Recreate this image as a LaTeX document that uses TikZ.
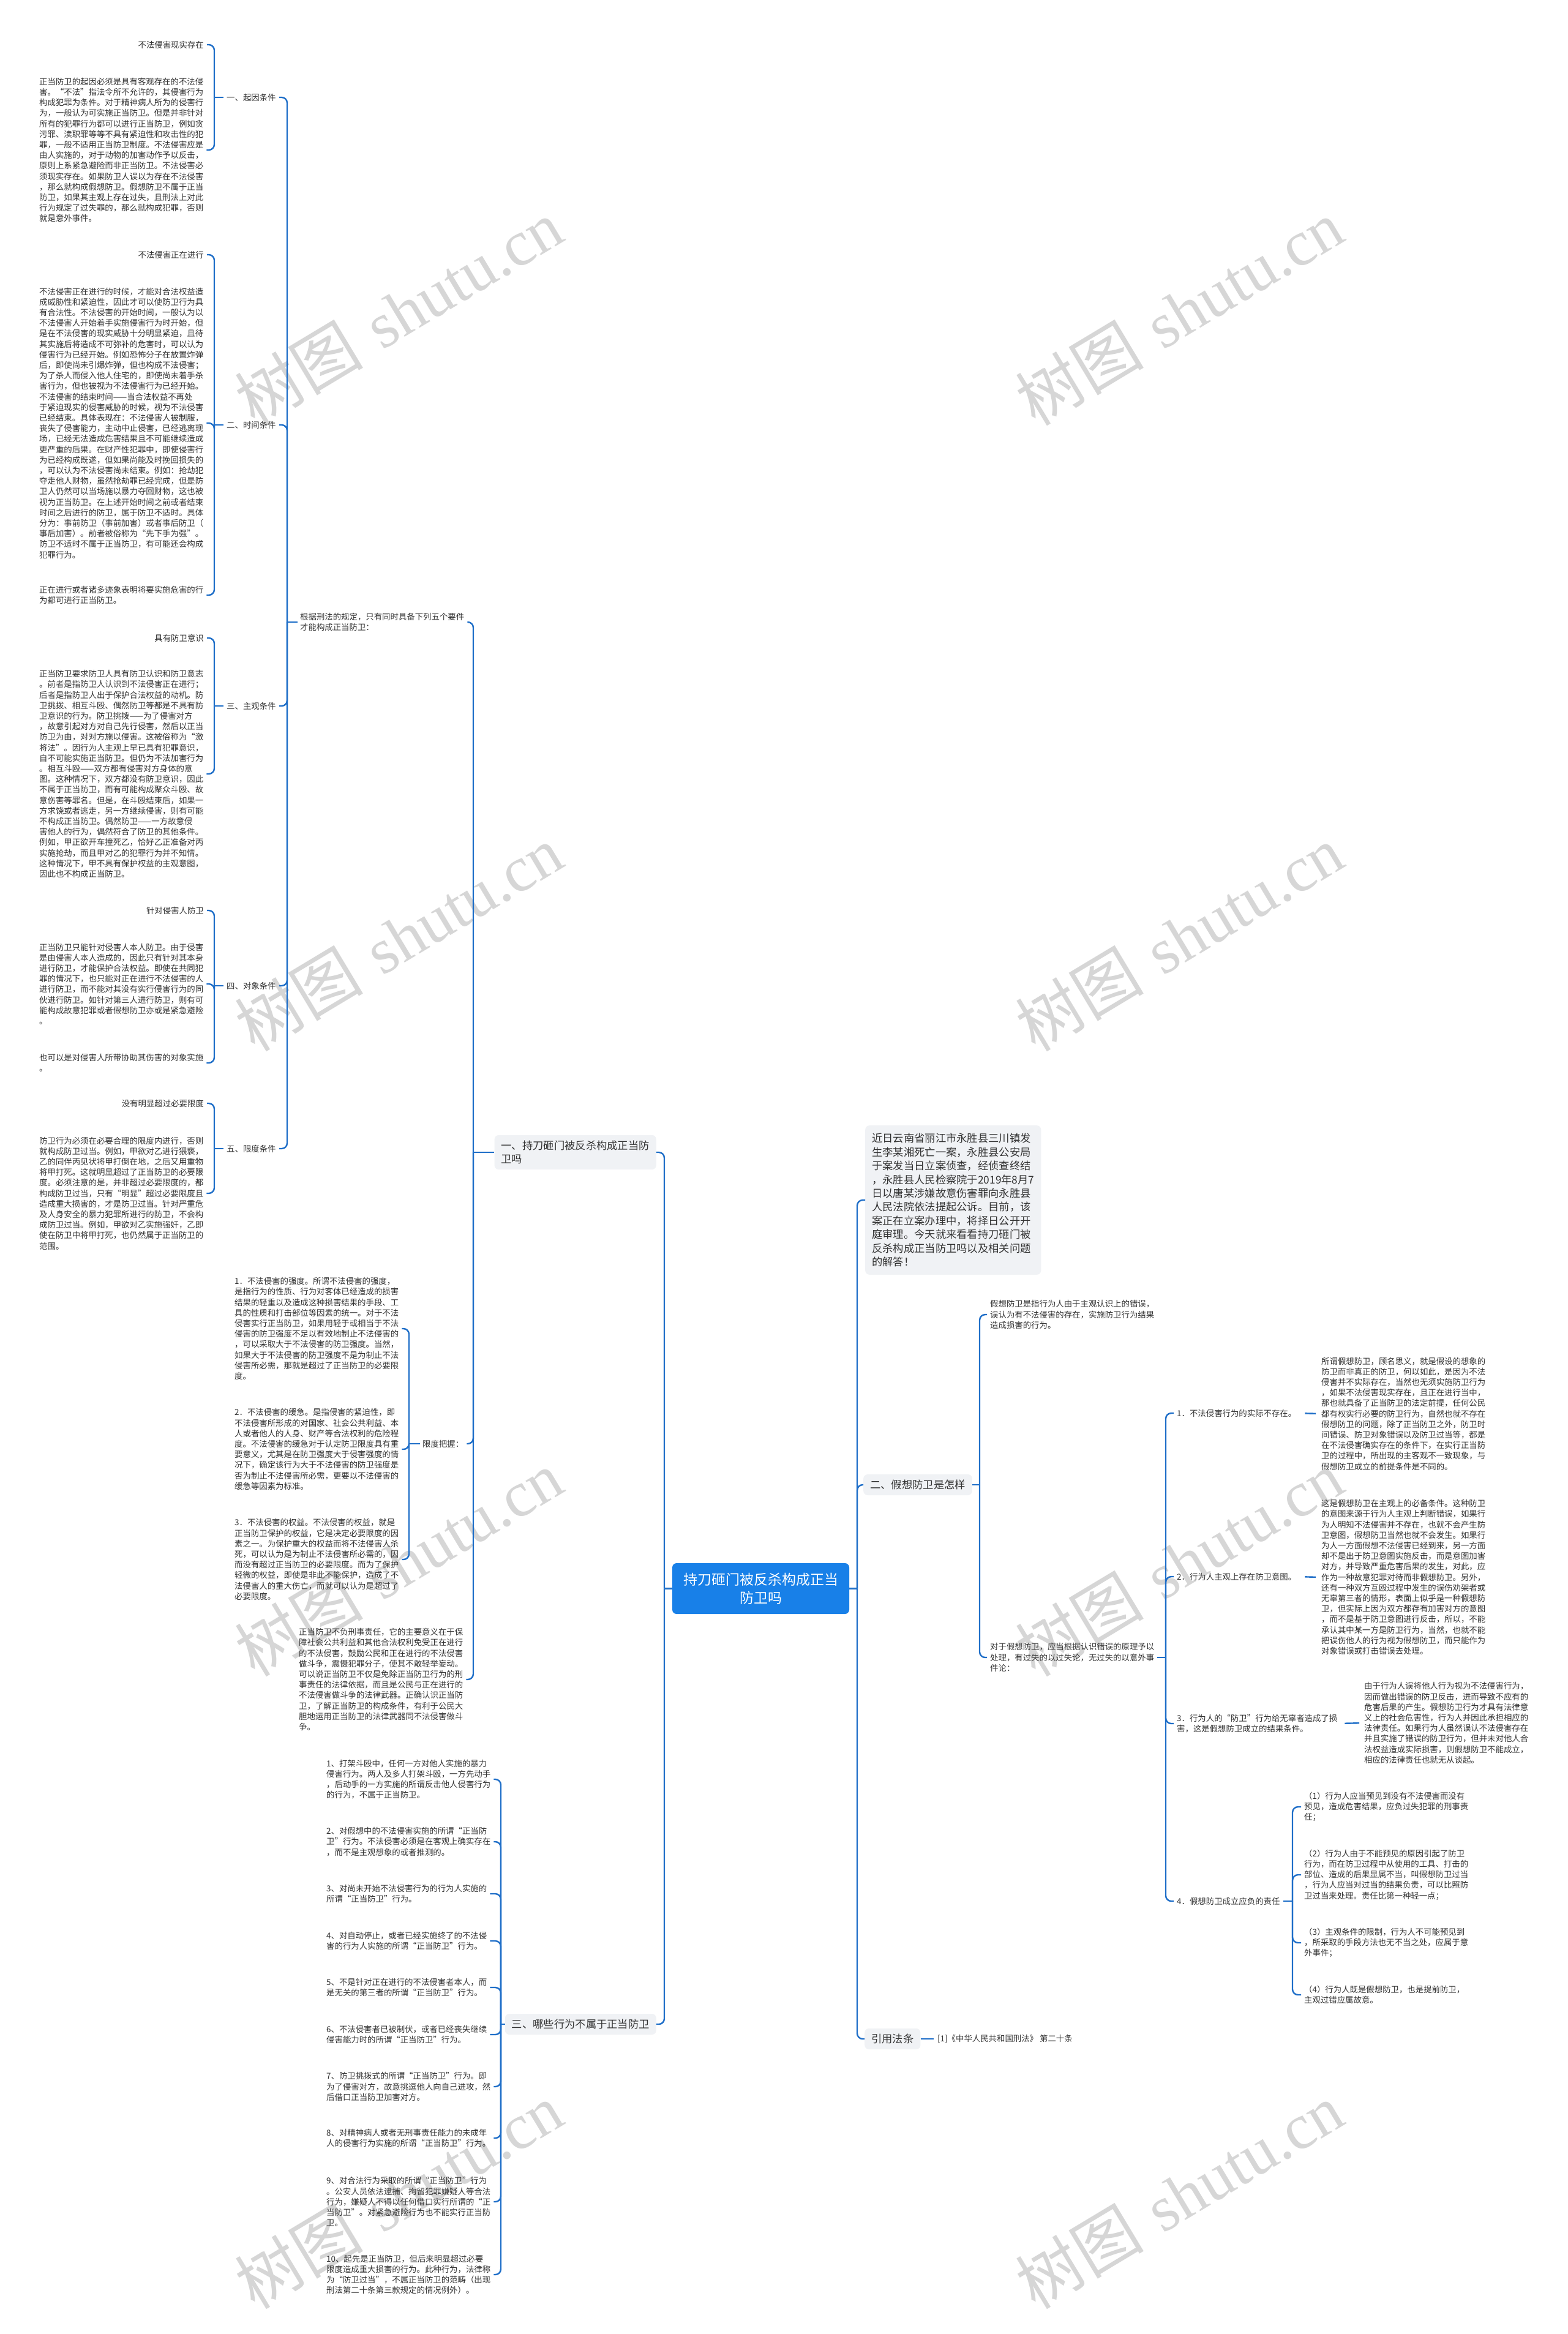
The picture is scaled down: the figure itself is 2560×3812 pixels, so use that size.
\documentclass[tikz,border=0pt]{standalone}
\usepackage{fontspec}
\setmainfont{Noto Sans CJK SC}
\newfontfamily\wmserif{Liberation Serif}
\usetikzlibrary{calc}
\definecolor{lineblue}{RGB}{30,110,200}
\definecolor{rootblue}{RGB}{24,128,232}
\definecolor{txtgray}{RGB}{50,50,50}
\definecolor{boxgray}{RGB}{240,242,245}
\definecolor{wmgray}{RGB}{214,214,214}
\begin{document}
\begin{tikzpicture}[x=1pt,y=-1pt,
  txt/.style={inner sep=0pt, align=left, text=txtgray, font=\fontsize{13.4}{17.2}\selectfont},
  conn/.style={draw=lineblue, line width=2.4pt},
  elbow/.style={conn, rounded corners=9pt},
  lone/.style={fill=boxgray, rounded corners=7pt, inner xsep=11pt, inner ysep=9pt, text=txtgray, align=left, font=\fontsize{17.3}{22.4}\selectfont},
  rootbox/.style={fill=rootblue, rounded corners=7pt, text=white, align=center, font=\fontsize{23}{30}\selectfont, minimum width=289pt, minimum height=83pt, inner sep=0pt},
  wm/.style={text=wmgray, rotate=31, inner sep=0pt, font=\fontsize{105}{105}\selectfont}]
\useasboundingbox (0,0) rectangle (2560,3812);
\fill[white] (0,0) rectangle (2560,3812);

% watermarks
\foreach \wx/\wy [count=\i] in {651/510, 1926/510, 651/1532, 1926/1532, 651/2553, 1926/2553, 651/3586, 1926/3586}
  \node[wm] (wm\i) at (\wx,\wy) {树图\hspace{32pt}{\wmserif shutu.cn}};

% vertical guide coordinates
\coordinate (vA) at (350,0);
\coordinate (vB) at (469,0);
\coordinate (vC) at (773,0);
\coordinate (vD) at (668,0);
\coordinate (vE) at (1085,0);
\coordinate (vF) at (818,0);
\coordinate (vG) at (1400,0);
\coordinate (vH) at (1600,0);
\coordinate (vI) at (1904,0);
\coordinate (vJ) at (2111,0);

% ---------------- root ----------------
\node[rootbox] (root) at (1242.5,2594.5) {持刀砸门被反杀构成正当\\防卫吗};

% ---------------- left level 1 ----------------
\node[lone, anchor=east] (L1a) at (1072,1882) {一、持刀砸门被反杀构成正当防\\卫吗};
\node[lone, anchor=east] (L1c) at (1072,3306) {三、哪些行为不属于正当防卫};

% ---------------- block 1 ----------------
\node[txt, anchor=east] (n1a) at (333,73) {不法侵害现实存在};
\node[txt, anchor=west] (n1b) at (64,245) {正当防卫的起因必须是具有客观存在的不法侵\\
害。“不法”指法令所不允许的，其侵害行为\\
构成犯罪为条件。对于精神病人所为的侵害行\\
为，一般认为可实施正当防卫。但是并非针对\\
所有的犯罪行为都可以进行正当防卫，例如贪\\
污罪、渎职罪等等不具有紧迫性和攻击性的犯\\
罪，一般不适用正当防卫制度。不法侵害应是\\
由人实施的，对于动物的加害动作予以反击，\\
原则上系紧急避险而非正当防卫。不法侵害必\\
须现实存在。如果防卫人误以为存在不法侵害\\
，那么就构成假想防卫。假想防卫不属于正当\\
防卫，如果其主观上存在过失，且刑法上对此\\
行为规定了过失罪的，那么就构成犯罪，否则\\
就是意外事件。};
\node[txt, anchor=west] (n1) at (370,159) {一、起因条件};

% ---------------- block 2 ----------------
\node[txt, anchor=east] (n2a) at (333,416) {不法侵害正在进行};
\node[txt, anchor=west] (n2b) at (64,691) {不法侵害正在进行的时候，才能对合法权益造\\
成威胁性和紧迫性，因此才可以使防卫行为具\\
有合法性。不法侵害的开始时间，一般认为以\\
不法侵害人开始着手实施侵害行为时开始，但\\
是在不法侵害的现实威胁十分明显紧迫，且待\\
其实施后将造成不可弥补的危害时，可以认为\\
侵害行为已经开始。例如恐怖分子在放置炸弹\\
后，即使尚未引爆炸弹，但也构成不法侵害；\\
为了杀人而侵入他人住宅的，即使尚未着手杀\\
害行为，但也被视为不法侵害行为已经开始。\\
不法侵害的结束时间——当合法权益不再处\\
于紧迫现实的侵害威胁的时候，视为不法侵害\\
已经结束。具体表现在：不法侵害人被制服，\\
丧失了侵害能力，主动中止侵害，已经逃离现\\
场，已经无法造成危害结果且不可能继续造成\\
更严重的后果。在财产性犯罪中，即使侵害行\\
为已经构成既遂，但如果尚能及时挽回损失的\\
，可以认为不法侵害尚未结束。例如：抢劫犯\\
夺走他人财物，虽然抢劫罪已经完成，但是防\\
卫人仍然可以当场施以暴力夺回财物，这也被\\
视为正当防卫。在上述开始时间之前或者结束\\
时间之后进行的防卫，属于防卫不适时。具体\\
分为：事前防卫（事前加害）或者事后防卫（\\
事后加害）。前者被俗称为“先下手为强”。\\
防卫不适时不属于正当防卫，有可能还会构成\\
犯罪行为。};
\node[txt, anchor=west] (n2c) at (64,972) {正在进行或者诸多迹象表明将要实施危害的行\\为都可进行正当防卫。};
\node[txt, anchor=west] (n2) at (370,694) {二、时间条件};

% ---------------- block 3 ----------------
\node[txt, anchor=east] (n3a) at (333,1042) {具有防卫意识};
\node[txt, anchor=west] (n3b) at (64,1264) {正当防卫要求防卫人具有防卫认识和防卫意志\\
。前者是指防卫人认识到不法侵害正在进行；\\
后者是指防卫人出于保护合法权益的动机。防\\
卫挑拨、相互斗殴、偶然防卫等都是不具有防\\
卫意识的行为。防卫挑拨——为了侵害对方\\
，故意引起对方对自己先行侵害，然后以正当\\
防卫为由，对对方施以侵害。这被俗称为“激\\
将法”。因行为人主观上早已具有犯罪意识，\\
自不可能实施正当防卫。但仍为不法加害行为\\
。相互斗殴——双方都有侵害对方身体的意\\
图。这种情况下，双方都没有防卫意识，因此\\
不属于正当防卫，而有可能构成聚众斗殴、故\\
意伤害等罪名。但是，在斗殴结束后，如果一\\
方求饶或者逃走，另一方继续侵害，则有可能\\
不构成正当防卫。偶然防卫——一方故意侵\\
害他人的行为，偶然符合了防卫的其他条件。\\
例如，甲正欲开车撞死乙，恰好乙正准备对丙\\
实施抢劫，而且甲对乙的犯罪行为并不知情。\\
这种情况下，甲不具有保护权益的主观意图，\\
因此也不构成正当防卫。};
\node[txt, anchor=west] (n3) at (370,1153) {三、主观条件};

% ---------------- block 4 ----------------
\node[txt, anchor=east] (n4a) at (333,1487) {针对侵害人防卫};
\node[txt, anchor=west] (n4b) at (64,1607) {正当防卫只能针对侵害人本人防卫。由于侵害\\
是由侵害人本人造成的，因此只有针对其本身\\
进行防卫，才能保护合法权益。即使在共同犯\\
罪的情况下，也只能对正在进行不法侵害的人\\
进行防卫，而不能对其没有实行侵害行为的同\\
伙进行防卫。如针对第三人进行防卫，则有可\\
能构成故意犯罪或者假想防卫亦或是紧急避险\\
。};
\node[txt, anchor=west] (n4c) at (64,1736) {也可以是对侵害人所带协助其伤害的对象实施\\。};
\node[txt, anchor=west] (n4) at (370,1610) {四、对象条件};

% ---------------- block 5 ----------------
\node[txt, anchor=east] (n5a) at (333,1802) {没有明显超过必要限度};
\node[txt, anchor=west] (n5b) at (64,1949) {防卫行为必须在必要合理的限度内进行，否则\\
就构成防卫过当。例如，甲欲对乙进行猥亵，\\
乙的同伴丙见状将甲打倒在地，之后又用重物\\
将甲打死。这就明显超过了正当防卫的必要限\\
度。必须注意的是，并非超过必要限度的，都\\
构成防卫过当，只有“明显”超过必要限度且\\
造成重大损害的，才是防卫过当。针对严重危\\
及人身安全的暴力犯罪所进行的防卫，不会构\\
成防卫过当。例如，甲欲对乙实施强奸，乙即\\
使在防卫中将甲打死，也仍然属于正当防卫的\\
范围。};
\node[txt, anchor=west] (n5) at (370,1876) {五、限度条件};

\node[txt, anchor=west] (n0) at (490,1016) {根据刑法的规定，只有同时具备下列五个要件\\才能构成正当防卫：};

% ---------------- limit ----------------
\node[txt, anchor=west] (nL1) at (383,2170) {1．不法侵害的强度。所谓不法侵害的强度，\\
是指行为的性质、行为对客体已经造成的损害\\
结果的轻重以及造成这种损害结果的手段、工\\
具的性质和打击部位等因素的统一。对于不法\\
侵害实行正当防卫，如果用轻于或相当于不法\\
侵害的防卫强度不足以有效地制止不法侵害的\\
，可以采取大于不法侵害的防卫强度。当然，\\
如果大于不法侵害的防卫强度不是为制止不法\\
侵害所必需，那就是超过了正当防卫的必要限\\
度。};
\node[txt, anchor=west] (nL2) at (383,2367) {2．不法侵害的缓急。是指侵害的紧迫性，即\\
不法侵害所形成的对国家、社会公共利益、本\\
人或者他人的人身、财产等合法权利的危险程\\
度。不法侵害的缓急对于认定防卫限度具有重\\
要意义，尤其是在防卫强度大于侵害强度的情\\
况下，确定该行为大于不法侵害的防卫强度是\\
否为制止不法侵害所必需，更要以不法侵害的\\
缓急等因素为标准。};
\node[txt, anchor=west] (nL3) at (383,2547) {3．不法侵害的权益。不法侵害的权益，就是\\
正当防卫保护的权益，它是决定必要限度的因\\
素之一。为保护重大的权益而将不法侵害人杀\\
死，可以认为是为制止不法侵害所必需的，因\\
而没有超过正当防卫的必要限度。而为了保护\\
轻微的权益，即使是非此不能保护，造成了不\\
法侵害人的重大伤亡，而就可以认为是超过了\\
必要限度。};
\node[txt, anchor=west] (nLimit) at (690,2358) {限度把握：};
\node[txt, anchor=west] (nDuty) at (488,2743) {正当防卫不负刑事责任，它的主要意义在于保\\
障社会公共利益和其他合法权利免受正在进行\\
的不法侵害，鼓励公民和正在进行的不法侵害\\
做斗争，震慑犯罪分子，使其不敢轻举妄动。\\
可以说正当防卫不仅是免除正当防卫行为的刑\\
事责任的法律依据，而且是公民与正在进行的\\
不法侵害做斗争的法律武器。正确认识正当防\\
卫，了解正当防卫的构成条件，有利于公民大\\
胆地运用正当防卫的法律武器同不法侵害做斗\\
争。};

% ---------------- not self-defence items ----------------
\node[txt, anchor=west] (i1) at (533,2906) {1、打架斗殴中，任何一方对他人实施的暴力\\
侵害行为。两人及多人打架斗殴，一方先动手\\
，后动手的一方实施的所谓反击他人侵害行为\\
的行为，不属于正当防卫。};
\node[txt, anchor=west] (i2) at (533,3008) {2、对假想中的不法侵害实施的所谓“正当防\\
卫”行为。不法侵害必须是在客观上确实存在\\
，而不是主观想象的或者推测的。};
\node[txt, anchor=west] (i3) at (533,3093) {3、对尚未开始不法侵害行为的行为人实施的\\
所谓“正当防卫”行为。};
\node[txt, anchor=west] (i4) at (533,3170) {4、对自动停止，或者已经实施终了的不法侵\\
害的行为人实施的所谓“正当防卫”行为。};
\node[txt, anchor=west] (i5) at (533,3246) {5、不是针对正在进行的不法侵害者本人，而\\
是无关的第三者的所谓“正当防卫”行为。};
\node[txt, anchor=west] (i6) at (533,3323) {6、不法侵害者已被制伏，或者已经丧失继续\\
侵害能力时的所谓“正当防卫”行为。};
\node[txt, anchor=west] (i7) at (533,3408) {7、防卫挑拨式的所谓“正当防卫”行为。即\\
为了侵害对方，故意挑逗他人向自己进攻，然\\
后借口正当防卫加害对方。};
\node[txt, anchor=west] (i8) at (533,3492) {8、对精神病人或者无刑事责任能力的未成年\\
人的侵害行为实施的所谓“正当防卫”行为。};
\node[txt, anchor=west] (i9) at (533,3596) {9、对合法行为采取的所谓“正当防卫”行为\\
。公安人员依法逮捕、拘留犯罪嫌疑人等合法\\
行为，嫌疑人不得以任何借口实行所谓的“正\\
当防卫”。对紧急避险行为也不能实行正当防\\
卫。};
\node[txt, anchor=west] (i10) at (533,3715) {10、起先是正当防卫，但后来明显超过必要\\
限度造成重大损害的行为。此种行为，法律称\\
为“防卫过当”，不属正当防卫的范畴（出现\\
刑法第二十条第三款规定的情况例外）。};

% ---------------- right side ----------------
\node[lone, anchor=west, inner ysep=13pt] (intro) at (1413,1960) {近日云南省丽江市永胜县三川镇发\\
生李某湘死亡一案，永胜县公安局\\
于案发当日立案侦查，经侦查终结\\
，永胜县人民检察院于2019年8月7\\
日以唐某涉嫌故意伤害罪向永胜县\\
人民法院依法提起公诉。目前，该\\
案正在立案办理中，将择日公开开\\
庭审理。今天就来看看持刀砸门被\\
反杀构成正当防卫吗以及相关问题\\
的解答！};
\node[lone, anchor=west] (L2b) at (1410,2425) {二、假想防卫是怎样};
\node[lone, anchor=west] (L2c) at (1412,3330) {引用法条};
\node[txt, anchor=west] (law) at (1531,3330) {[1]《中华人民共和国刑法》 第二十条};

\node[txt, anchor=west] (defn) at (1617,2147) {假想防卫是指行为人由于主观认识上的错误，\\
误认为有不法侵害的存在，实施防卫行为结果\\
造成损害的行为。};
\node[txt, anchor=west] (hand) at (1617,2707) {对于假想防卫，应当根据认识错误的原理予以\\
处理，有过失的以过失论，无过失的以意外事\\
件论：};

\node[txt, anchor=west] (b1) at (1922,2308) {1．不法侵害行为的实际不存在。};
\node[txt, anchor=west] (t1) at (2158,2309) {所谓假想防卫，顾名思义，就是假设的想象的\\
防卫而非真正的防卫，何以如此，是因为不法\\
侵害并不实际存在，当然也无须实施防卫行为\\
，如果不法侵害现实存在，且正在进行当中，\\
那也就具备了正当防卫的法定前提，任何公民\\
都有权实行必要的防卫行为，自然也就不存在\\
假想防卫的问题，除了正当防卫之外，防卫时\\
间错误、防卫对象错误以及防卫过当等，都是\\
在不法侵害确实存在的条件下，在实行正当防\\
卫的过程中，所出现的主客观不一致现象，与\\
假想防卫成立的前提条件是不同的。};
\node[txt, anchor=west] (b2) at (1922,2575) {2．行为人主观上存在防卫意图。};
\node[txt, anchor=west] (t2) at (2158,2576) {这是假想防卫在主观上的必备条件。这种防卫\\
的意图来源于行为人主观上判断错误，如果行\\
为人明知不法侵害并不存在，也就不会产生防\\
卫意图，假想防卫当然也就不会发生。如果行\\
为人一方面假想不法侵害已经到来，另一方面\\
却不是出于防卫意图实施反击，而是意图加害\\
对方，并导致严重危害后果的发生，对此，应\\
作为一种故意犯罪对待而非假想防卫。另外，\\
还有一种双方互殴过程中发生的误伤劝架者或\\
无辜第三者的情形，表面上似乎是一种假想防\\
卫，但实际上因为双方都存有加害对方的意图\\
，而不是基于防卫意图进行反击，所以，不能\\
承认其中某一方是防卫行为，当然，也就不能\\
把误伤他人的行为视为假想防卫，而只能作为\\
对象错误或打击错误去处理。};
\node[txt, anchor=west] (b3) at (1922,2815) {3．行为人的“防卫”行为给无辜者造成了损\\害，这是假想防卫成立的结果条件。};
\node[txt, anchor=west] (t3) at (2228,2814) {由于行为人误将他人行为视为不法侵害行为，\\
因而做出错误的防卫反击，进而导致不应有的\\
危害后果的产生。假想防卫行为才具有法律意\\
义上的社会危害性，行为人并因此承担相应的\\
法律责任。如果行为人虽然误认不法侵害存在\\
并且实施了错误的防卫行为，但并未对他人合\\
法权益造成实际损害，则假想防卫不能成立，\\
相应的法律责任也就无从谈起。};
\node[txt, anchor=west] (b4) at (1922,3105) {4．假想防卫成立应负的责任};
\node[txt, anchor=west] (r1) at (2130,2951) {（1）行为人应当预见到没有不法侵害而没有\\
预见，造成危害结果，应负过失犯罪的刑事责\\
任；};
\node[txt, anchor=west] (r2) at (2130,3062) {（2）行为人由于不能预见的原因引起了防卫\\
行为，而在防卫过程中从使用的工具、打击的\\
部位、造成的后果显属不当，叫假想防卫过当\\
，行为人应当对过当的结果负责，可以比照防\\
卫过当来处理。责任比第一种轻一点；};
\node[txt, anchor=west] (r3) at (2130,3173) {（3）主观条件的限制，行为人不可能预见到\\
，所采取的手段方法也无不当之处，应属于意\\
外事件；};
\node[txt, anchor=west] (r4) at (2130,3258) {（4）行为人既是假想防卫，也是提前防卫，\\
主观过错应属故意。};

% ================= connectors =================
% blocks 1-5 (vA)
\foreach \p/\cs in {n1/{n1a,n1b}, n2/{n2a,n2b,n2c}, n3/{n3a,n3b}, n4/{n4a,n4b,n4c}, n5/{n5a,n5b}} {
  \draw[conn, shorten <=5pt] (\p.west) -- (\p.west -| vA);
  \foreach \c in \cs
    \draw[elbow, shorten >=5pt] (\p.west -| vA) |- (\c.east);
}
% five conditions (vB)
\draw[conn, shorten <=4pt] (n0.west) -- (n0.west -| vB);
\foreach \c in {n1,n2,n3,n4,n5}
  \draw[elbow, shorten >=5pt] (n0.west -| vB) |- (\c.east);
% L1a children (vC)
\draw[conn] (L1a.west) -- (L1a.west -| vC);
\foreach \c in {n0,nLimit,nDuty}
  \draw[elbow, shorten >=5pt] (L1a.west -| vC) |- (\c.east);
% limit children (vD)
\draw[conn, shorten <=4pt] (nLimit.west) -- (nLimit.west -| vD);
\foreach \c in {nL1,nL2,nL3}
  \draw[elbow, shorten >=5pt] (nLimit.west -| vD) |- (\c.east);
% root left (vE)
\draw[conn] (root.west) -- (root.west -| vE);
\foreach \c in {L1a,L1c}
  \draw[elbow] (root.west -| vE) |- (\c.east);
% L1c children (vF)
\draw[conn] (L1c.west) -- (L1c.west -| vF);
\foreach \c in {i1,i2,i3,i4,i5,i6,i7,i8,i9,i10}
  \draw[elbow, shorten >=5pt] (L1c.west -| vF) |- (\c.east);
% root right (vG)
\draw[conn] (root.east) -- (root.east -| vG);
\foreach \c in {intro,L2b,L2c}
  \draw[elbow] (root.east -| vG) |- (\c.west);
% L2b children (vH)
\draw[conn] (L2b.east) -- (L2b.east -| vH);
\foreach \c in {defn,hand}
  \draw[elbow, shorten >=5pt] (L2b.east -| vH) |- (\c.west);
% hand children (vI)
\draw[conn, shorten <=5pt] (hand.east) -- (hand.east -| vI);
\foreach \c in {b1,b2,b3,b4}
  \draw[elbow, shorten >=5pt] (hand.east -| vI) |- (\c.west);
% single ticks
\draw[conn, shorten <=14pt, shorten >=9pt] (b1.east) -- (t1.west);
\draw[conn, shorten <=14pt, shorten >=9pt] (b2.east) -- (t2.west);
\draw[conn, shorten <=12pt, shorten >=8pt] (b3.east) -- (t3.west);
\draw[conn] (L2c.east) -- ([xshift=-6pt]law.west);
% b4 children (vJ)
\draw[conn, shorten <=5pt] (b4.east) -- (b4.east -| vJ);
\foreach \c in {r1,r2,r3,r4}
  \draw[elbow, shorten >=5pt] (b4.east -| vJ) |- (\c.west);
\end{tikzpicture}
\end{document}
